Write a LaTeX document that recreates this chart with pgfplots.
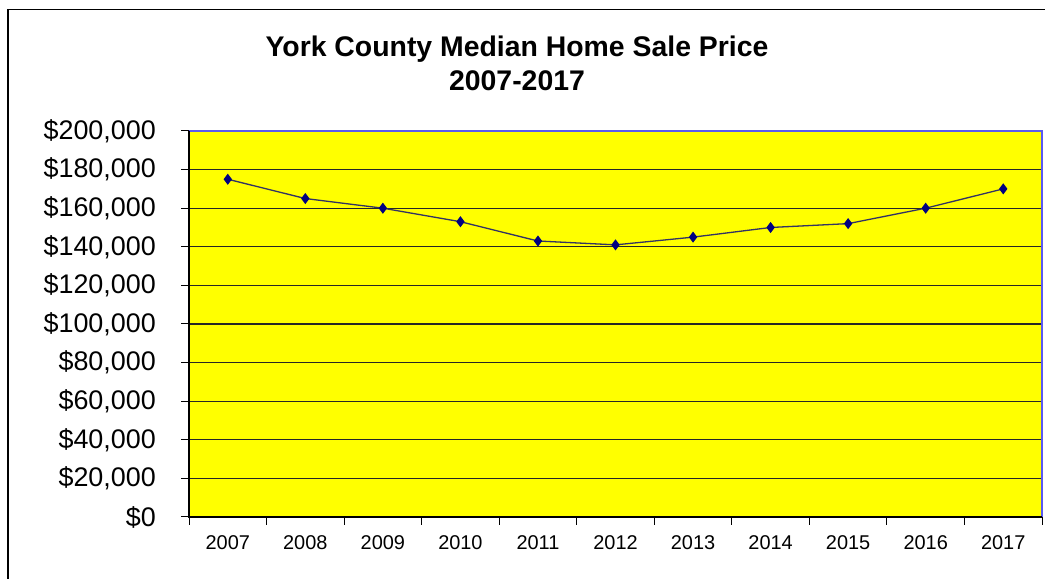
\documentclass[border=0pt]{standalone}
\usepackage{pgfplots}
\pgfplotsset{compat=1.18}
\usepackage{fontspec}
\setmainfont{Liberation Sans}
\definecolor{plotyellow}{RGB}{255,255,0}
\definecolor{linenavy}{RGB}{50,50,100}
\definecolor{marknavy}{RGB}{0,0,128}
\definecolor{borderblue}{RGB}{90,90,240}
\begin{document}
\begin{tikzpicture}[x=1bp,y=1bp]
\path[use as bounding box] (0,0) rectangle (1045,579);
\clip (0,0) rectangle (1045,579);
\draw[line width=1.5bp,black] (8,569.5) rectangle (1080,-30);
\node[anchor=base,font=\fontsize{28.5}{32}\selectfont\bfseries] at (517,522) {York County Median Home Sale Price};
\node[anchor=base,font=\fontsize{28.5}{32}\selectfont\bfseries] at (517,488) {2007-2017};
\begin{axis}[
  at={(189bp,62bp)}, anchor=south west,
  width=853bp, height=386bp, scale only axis,
  xmin=-0.5, xmax=10.5, ymin=0, ymax=200000,
  scaled y ticks=false,
  axis background/.style={fill=plotyellow},
  axis line style={draw=none},
  xtick={0,1,2,3,4,5,6,7,8,9,10},
  xticklabels={2007,2008,2009,2010,2011,2012,2013,2014,2015,2016,2017},
  major x tick style={draw=none},
  minor xtick={-0.5,0.5,1.5,2.5,3.5,4.5,5.5,6.5,7.5,8.5,9.5,10.5},
  minor x tick style={black, line width=1bp},
  minor tick length=8bp,
  ytick={0,20000,40000,60000,80000,100000,120000,140000,160000,180000,200000},
  yticklabels={\$0,{\$20,000},{\$40,000},{\$60,000},{\$80,000},{\$100,000},{\$120,000},{\$140,000},{\$160,000},{\$180,000},{\$200,000}},
  major y tick style={black, line width=1bp},
  major tick length=8bp,
  tick align=outside,
  xtick pos=bottom, ytick pos=left,
  ymajorgrids, grid style={black!85, line width=1.3bp},
  yticklabel style={font=\fontsize{27}{30}\selectfont, anchor=east, inner sep=0pt, xshift=-25bp},
  xticklabel style={font=\fontsize{20}{24}\selectfont, anchor=north, inner sep=0pt, yshift=-10bp},
  clip=false,
]
\addplot[color=linenavy, line width=1.3bp, mark=diamond*, mark size=4.5bp, mark options={fill=marknavy, draw=marknavy}]
  coordinates {(0,175000) (1,165000) (2,160000) (3,153000) (4,143000) (5,141000) (6,145000) (7,150000) (8,152000) (9,160000) (10,170000)};
\draw[borderblue, line width=1.2bp] (rel axis cs:0,1) -- (rel axis cs:1,1) -- (rel axis cs:1,0);
\draw[black, line width=1.2bp] (rel axis cs:0,1) -- (rel axis cs:0,0) -- (rel axis cs:1,0);
\end{axis}
\end{tikzpicture}
\end{document}
